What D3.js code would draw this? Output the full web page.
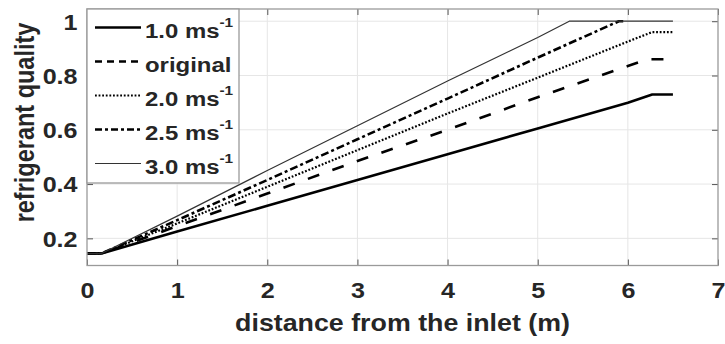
<!DOCTYPE html>
<html>
<head>
<meta charset="utf-8">
<script src="https://cdn.jsdelivr.net/npm/d3@7"></script>
<style>
  html, body { margin: 0; padding: 0; background: #fff; }
  svg { display: block; font-family: "Liberation Sans", Arial, sans-serif; font-weight: bold; }
</style>
</head>
<body>
<svg id="chart" width="725" height="344"></svg>
<script>
// Refrigerant quality along the evaporator tube for several flow velocities
const xTicks = [0, 1, 2, 3, 4, 5, 6, 7];
const yTicks = [0.2, 0.4, 0.6, 0.8, 1];
const yTickLabels = ["0.2", "0.4", "0.6", "0.8", "1"];

const seriesNames = ["1.0 ms", "original", "2.0 ms", "2.5 ms", "3.0 ms"];
const seriesSup = ["-1", "", "-1", "-1", "-1"];

const dist10 = [0, 0.16, 1, 2, 3, 4, 5, 6, 6.27, 6.5];
const qual10 = [0.144, 0.144, 0.225, 0.32, 0.415, 0.51, 0.605, 0.70, 0.73, 0.73];

const distOrig = [0, 0.16, 1, 2, 3, 4, 5, 6, 6.22, 6.5];
const qualOrig = [0.144, 0.144, 0.245, 0.365, 0.485, 0.60, 0.72, 0.835, 0.86, 0.86];

const dist20 = [0, 0.16, 1, 2, 3, 4, 5, 6, 6.27, 6.5];
const qual20 = [0.144, 0.144, 0.255, 0.39, 0.525, 0.66, 0.792, 0.925, 0.96, 0.96];

const dist25 = [0, 0.16, 1, 2, 3, 4, 5, 5.9, 5.95];
const qual25 = [0.144, 0.144, 0.267, 0.415, 0.565, 0.715, 0.866, 1.0, 1.0];

const dist30 = [0, 0.16, 1, 2, 3, 4, 5, 5.35, 6.5];
const qual30 = [0.144, 0.144, 0.282, 0.45, 0.615, 0.78, 0.94, 1.0, 1.0];

const series = [
  { name: seriesNames[0], sup: seriesSup[0], d: dist10, q: qual10, w: 2.6, color: "#000", dash: null, legDash: null },
  { name: seriesNames[1], sup: seriesSup[1], d: distOrig, q: qualOrig, w: 2.6, color: "#000", dash: "12,14", legDash: "7,5" },
  { name: seriesNames[2], sup: seriesSup[2], d: dist20, q: qual20, w: 2.2, color: "#000", dash: "1.8,1.8", legDash: "1.8,1.8" },
  { name: seriesNames[3], sup: seriesSup[3], d: dist25, q: qual25, w: 2.6, color: "#000", dash: "8,3,3,3", legDash: "7,3,3,3" },
  { name: seriesNames[4], sup: seriesSup[4], d: dist30, q: qual30, w: 1.2, color: "#333", dash: null, legDash: null }
];

const svg = d3.select("#chart");
const plotL = 87, plotR = 718, plotT = 9, plotB = 265.5;
const stretch = 1.14;   // horizontal widening of all lettering
const ink = "#262626";

const x = d3.scaleLinear().domain([0, 7]).range([plotL, plotR]);
const y = d3.scaleLinear().domain([0.1, 1.045]).range([plotB, plotT]);

// grid
const grid = svg.append("g");
grid.selectAll("line.gx").data(xTicks.slice(1, -1)).join("line")
  .attr("x1", d => x(d)).attr("x2", d => x(d))
  .attr("y1", plotT).attr("y2", plotB)
  .attr("stroke", "#e6e6e6").attr("stroke-width", 1);
grid.selectAll("line.gy").data(yTicks).join("line")
  .attr("y1", d => y(d)).attr("y2", d => y(d))
  .attr("x1", plotL).attr("x2", plotR)
  .attr("stroke", "#e6e6e6").attr("stroke-width", 1);

// axes with inward ticks on all four sides
const tickLen = 6;
const axisColor = "#555";
const axB = d3.axisBottom(x).tickValues(xTicks).tickSize(-tickLen).tickPadding(17).tickFormat(d3.format("d"));
const axT = d3.axisTop(x).tickValues(xTicks).tickSize(-tickLen).tickFormat("");
const axL = d3.axisLeft(y).tickValues(yTicks).tickSize(-tickLen).tickFormat((d, i) => yTickLabels[i]);
const axR = d3.axisRight(y).tickValues(yTicks).tickSize(-tickLen).tickFormat("");

function styleAxis(g) {
  g.select(".domain").remove();
  g.selectAll(".tick line").attr("stroke", axisColor).attr("stroke-width", 1);
  g.selectAll(".tick text").attr("fill", ink).attr("font-size", 22)
    .attr("font-family", "Liberation Sans, Arial, sans-serif").attr("font-weight", "bold");
}
const gB = svg.append("g").attr("transform", `translate(0,${plotB})`).call(axB).call(styleAxis);
gB.selectAll(".tick text").attr("transform", `scale(${stretch},1)`);
svg.append("g").attr("transform", `translate(0,${plotT})`).call(axT).call(styleAxis);
const gL = svg.append("g").attr("transform", `translate(${plotL},0)`).call(axL).call(styleAxis);
gL.selectAll(".tick text").attr("x", 0).attr("dy", "0.36em")
  .attr("transform", `translate(-9.5,0) scale(${stretch},1)`);
svg.append("g").attr("transform", `translate(${plotR},0)`).call(axR).call(styleAxis);

// data lines
const line = d3.line().x(d => x(d[0])).y(d => y(d[1]));
svg.append("g").selectAll("path").data(series).join("path")
  .attr("d", s => line(s.d.map((v, i) => [v, s.q[i]])))
  .attr("fill", "none").attr("stroke", s => s.color)
  .attr("stroke-width", s => s.w)
  .attr("stroke-dasharray", s => s.dash)
  .attr("stroke-linejoin", "round");

// axes box
svg.append("rect").attr("x", plotL).attr("y", plotT)
  .attr("width", plotR - plotL).attr("height", plotB - plotT)
  .attr("fill", "none").attr("stroke", "#9a9a9a").attr("stroke-width", 1.3);

// axis titles
svg.append("text")
  .attr("transform", `translate(${(plotL + plotR) / 2},331) scale(${stretch},1)`)
  .attr("text-anchor", "middle").attr("font-size", 23.5).attr("fill", ink)
  .text("distance from the inlet (m)");
svg.append("text")
  .attr("transform", `translate(34,122.5) scale(${stretch},1) rotate(-90)`)
  .attr("text-anchor", "middle").attr("font-size", 23.5).attr("fill", ink)
  .text("refrigerant quality");

// legend
const lg = svg.append("g");
lg.append("rect").attr("x", 87).attr("y", 9).attr("width", 152).attr("height", 174)
  .attr("fill", "#fff").attr("stroke", "#9a9a9a").attr("stroke-width", 1.3);
const rows = lg.selectAll("g.row").data(series).join("g")
  .attr("transform", (s, i) => `translate(0,${27.5 + i * 34})`);
rows.append("line").attr("x1", 95).attr("x2", 141).attr("y1", 0).attr("y2", 0)
  .attr("stroke", s => s.color).attr("stroke-width", s => s.w)
  .attr("stroke-dasharray", s => s.legDash);
const lt = rows.append("text").attr("transform", `translate(145,10) scale(${stretch},1)`)
  .attr("font-size", 21).attr("fill", ink);
lt.append("tspan").text(s => s.name);
lt.append("tspan").attr("dy", -11).attr("font-size", 13.5).text(s => s.sup);
</script>
</body>
</html>
